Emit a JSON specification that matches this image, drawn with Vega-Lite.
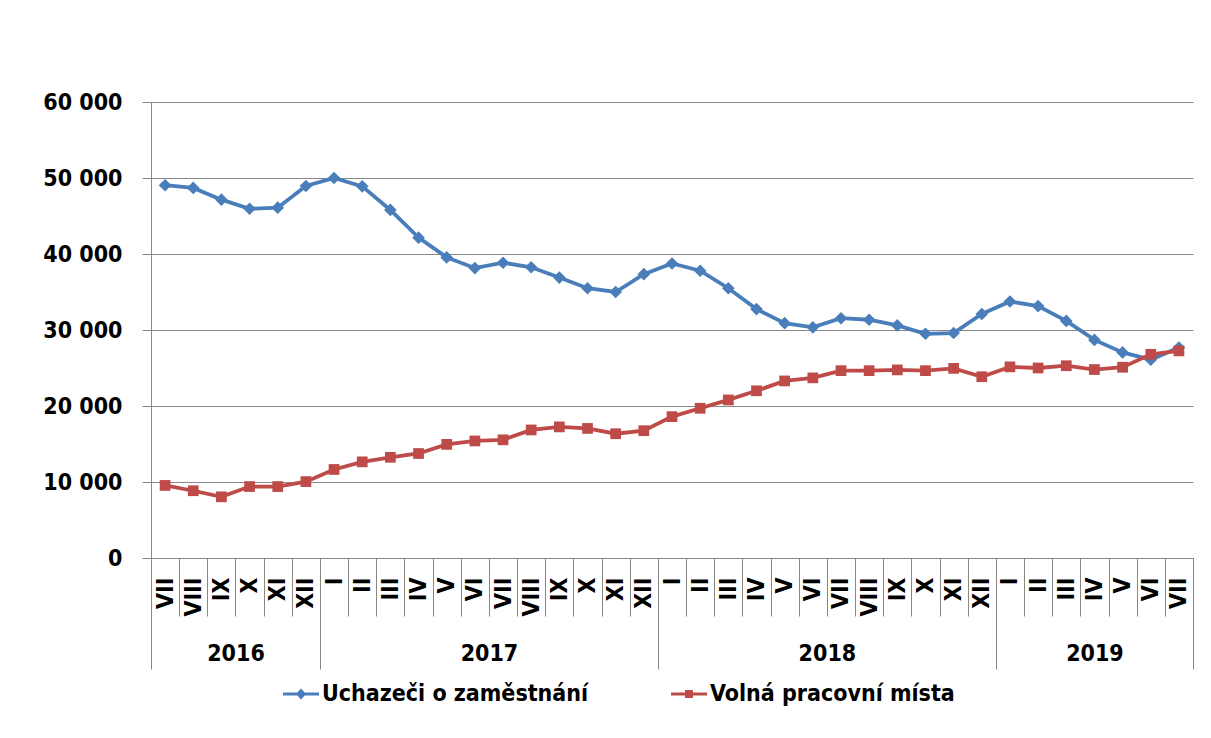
{
  "$schema": "https://vega.github.io/schema/vega-lite/v6.json",
  "width": 1042,
  "height": 456,
  "autosize": {"type": "none"},
  "padding": {"left": 151, "top": 102, "right": 18, "bottom": 180},
  "background": "white",
  "config": {
    "view": {"stroke": null},
    "font": "DejaVu Sans Condensed, DejaVu Sans",
    "axis": {"labelFont": "DejaVu Sans Condensed, DejaVu Sans", "labelFontWeight": "bold", "labelFontSize": 23, "labelColor": "black"},
    "legend": {"labelFont": "DejaVu Sans Condensed, DejaVu Sans", "labelFontWeight": "bold", "labelFontSize": 23, "labelColor": "black", "labelLimit": 500}
  },
  "datasets": {
    "series": [
      {"i": 0, "series": "Uchazeči o zaměstnání", "value": 49050},
      {"i": 1, "series": "Uchazeči o zaměstnání", "value": 48700},
      {"i": 2, "series": "Uchazeči o zaměstnání", "value": 47150},
      {"i": 3, "series": "Uchazeči o zaměstnání", "value": 45950},
      {"i": 4, "series": "Uchazeči o zaměstnání", "value": 46100},
      {"i": 5, "series": "Uchazeči o zaměstnání", "value": 48950},
      {"i": 6, "series": "Uchazeči o zaměstnání", "value": 50000},
      {"i": 7, "series": "Uchazeči o zaměstnání", "value": 48900},
      {"i": 8, "series": "Uchazeči o zaměstnání", "value": 45800},
      {"i": 9, "series": "Uchazeči o zaměstnání", "value": 42150},
      {"i": 10, "series": "Uchazeči o zaměstnání", "value": 39550},
      {"i": 11, "series": "Uchazeči o zaměstnání", "value": 38150},
      {"i": 12, "series": "Uchazeči o zaměstnání", "value": 38850},
      {"i": 13, "series": "Uchazeči o zaměstnání", "value": 38250},
      {"i": 14, "series": "Uchazeči o zaměstnání", "value": 36900},
      {"i": 15, "series": "Uchazeči o zaměstnání", "value": 35500},
      {"i": 16, "series": "Uchazeči o zaměstnání", "value": 35000},
      {"i": 17, "series": "Uchazeči o zaměstnání", "value": 37350},
      {"i": 18, "series": "Uchazeči o zaměstnání", "value": 38750},
      {"i": 19, "series": "Uchazeči o zaměstnání", "value": 37800},
      {"i": 20, "series": "Uchazeči o zaměstnání", "value": 35500},
      {"i": 21, "series": "Uchazeči o zaměstnání", "value": 32750},
      {"i": 22, "series": "Uchazeči o zaměstnání", "value": 30900},
      {"i": 23, "series": "Uchazeči o zaměstnání", "value": 30350},
      {"i": 24, "series": "Uchazeči o zaměstnání", "value": 31550},
      {"i": 25, "series": "Uchazeči o zaměstnání", "value": 31350},
      {"i": 26, "series": "Uchazeči o zaměstnání", "value": 30600},
      {"i": 27, "series": "Uchazeči o zaměstnání", "value": 29500},
      {"i": 28, "series": "Uchazeči o zaměstnání", "value": 29600},
      {"i": 29, "series": "Uchazeči o zaměstnání", "value": 32100},
      {"i": 30, "series": "Uchazeči o zaměstnání", "value": 33750},
      {"i": 31, "series": "Uchazeči o zaměstnání", "value": 33150},
      {"i": 32, "series": "Uchazeči o zaměstnání", "value": 31200},
      {"i": 33, "series": "Uchazeči o zaměstnání", "value": 28700},
      {"i": 34, "series": "Uchazeči o zaměstnání", "value": 27050},
      {"i": 35, "series": "Uchazeči o zaměstnání", "value": 26100},
      {"i": 36, "series": "Uchazeči o zaměstnání", "value": 27700},
      {"i": 0, "series": "Volná pracovní místa", "value": 9550},
      {"i": 1, "series": "Volná pracovní místa", "value": 8850},
      {"i": 2, "series": "Volná pracovní místa", "value": 8050},
      {"i": 3, "series": "Volná pracovní místa", "value": 9400},
      {"i": 4, "series": "Volná pracovní místa", "value": 9400},
      {"i": 5, "series": "Volná pracovní místa", "value": 10050},
      {"i": 6, "series": "Volná pracovní místa", "value": 11650},
      {"i": 7, "series": "Volná pracovní místa", "value": 12650},
      {"i": 8, "series": "Volná pracovní místa", "value": 13250},
      {"i": 9, "series": "Volná pracovní místa", "value": 13750},
      {"i": 10, "series": "Volná pracovní místa", "value": 14950},
      {"i": 11, "series": "Volná pracovní místa", "value": 15400},
      {"i": 12, "series": "Volná pracovní místa", "value": 15550},
      {"i": 13, "series": "Volná pracovní místa", "value": 16850},
      {"i": 14, "series": "Volná pracovní místa", "value": 17250},
      {"i": 15, "series": "Volná pracovní místa", "value": 17050},
      {"i": 16, "series": "Volná pracovní místa", "value": 16350},
      {"i": 17, "series": "Volná pracovní místa", "value": 16750},
      {"i": 18, "series": "Volná pracovní místa", "value": 18600},
      {"i": 19, "series": "Volná pracovní místa", "value": 19700},
      {"i": 20, "series": "Volná pracovní místa", "value": 20800},
      {"i": 21, "series": "Volná pracovní místa", "value": 22000},
      {"i": 22, "series": "Volná pracovní místa", "value": 23300},
      {"i": 23, "series": "Volná pracovní místa", "value": 23700},
      {"i": 24, "series": "Volná pracovní místa", "value": 24650},
      {"i": 25, "series": "Volná pracovní místa", "value": 24650},
      {"i": 26, "series": "Volná pracovní místa", "value": 24750},
      {"i": 27, "series": "Volná pracovní místa", "value": 24650},
      {"i": 28, "series": "Volná pracovní místa", "value": 24950},
      {"i": 29, "series": "Volná pracovní místa", "value": 23850},
      {"i": 30, "series": "Volná pracovní místa", "value": 25150},
      {"i": 31, "series": "Volná pracovní místa", "value": 25000},
      {"i": 32, "series": "Volná pracovní místa", "value": 25300},
      {"i": 33, "series": "Volná pracovní místa", "value": 24800},
      {"i": 34, "series": "Volná pracovní místa", "value": 25100},
      {"i": 35, "series": "Volná pracovní místa", "value": 26800},
      {"i": 36, "series": "Volná pracovní místa", "value": 27250}
    ]
  },
  "data": {"name": "series"},
  "resolve": {"scale": {"x": "shared", "y": "shared", "color": "shared"}, "axis": {"x": "independent", "y": "independent"}},
  "layer": [
    {
      "transform": [{"filter": "datum.series === 'Uchazeči o zaměstnání'"}],
      "mark": {"type": "line", "strokeWidth": 3.8},
      "encoding": {
        "x": {"field": "i", "type": "quantitative",
          "scale": {"domain": [-0.5, 36.5], "nice": false, "zero": false},
          "axis": {"orient": "bottom", "title": null, "values": [0,1,2,3,4,5,6,7,8,9,10,11,12,13,14,15,16,17,18,19,20,21,22,23,24,25,26,27,28,29,30,31,32,33,34,35,36],
            "labelExpr": "['VII','VIII','IX','X','XI','XII','I','II','III','IV','V','VI','VII','VIII','IX','X','XI','XII','I','II','III','IV','V','VI','VII','VIII','IX','X','XI','XII','I','II','III','IV','V','VI','VII'][datum.value]",
            "labelAngle": -90, "labelAlign": "right", "labelBaseline": "middle", "labelPadding": 19,
            "ticks": false, "tickSize": 0, "grid": false, "domain": true, "domainColor": "#878787", "domainWidth": 1,
            "labelOverlap": false, "labelFlush": false, "labelBound": false}},
        "y": {"field": "value", "type": "quantitative",
          "scale": {"domain": [0, 60000], "nice": false},
          "axis": {"title": null, "values": [0, 10000, 20000, 30000, 40000, 50000, 60000],
            "labelExpr": "replace(format(datum.value, ','), ',', ' ')",
            "grid": true, "gridColor": "#878787", "gridWidth": 1, "domainColor": "#878787", "tickColor": "#878787",
            "tickSize": 9, "labelPadding": 20, "labelOverlap": false, "labelFlush": false}},
        "color": {"field": "series", "type": "nominal",
          "scale": {"domain": ["Uchazeči o zaměstnání", "Volná pracovní místa"], "range": ["#4A7EBB", "#BE4B48"]},
          "legend": {"title": null, "orient": "none", "legendX": 132, "legendY": 574, "direction": "horizontal",
            "symbolSize": 1296, "labelOffset": 3, "columnPadding": 82, "labelBaseline": "middle", "labelLimit": 500,
            "encode": {"symbols": {"update": {
              "shape": {"signal": "datum.value === 'Uchazeči o zaměstnání' ? 'M-1,-0.09H1V0.09H-1Z M0,-0.3L0.28,0L0,0.3L-0.28,0Z' : 'M-1,-0.09H1V0.09H-1Z M-0.22,-0.22H0.22V0.22H-0.22Z'"},
              "fill": {"signal": "datum.value === 'Uchazeči o zaměstnání' ? '#4A7EBB' : '#BE4B48'"},
              "fillOpacity": {"value": 1},
              "strokeWidth": {"value": 0}}}}}}
      }
    },
    {
      "transform": [{"filter": "datum.series === 'Uchazeči o zaměstnání'"}],
      "mark": {"type": "point", "shape": "diamond", "filled": true, "size": 160, "opacity": 1},
      "encoding": {
        "x": {"field": "i", "type": "quantitative",
          "scale": {"domain": [-0.5, 36.5], "nice": false, "zero": false},
          "axis": {"orient": "bottom", "title": null, "values": [-0.5,0.5,1.5,2.5,3.5,4.5,5.5,6.5,7.5,8.5,9.5,10.5,11.5,12.5,13.5,14.5,15.5,16.5,17.5,18.5,19.5,20.5,21.5,22.5,23.5,24.5,25.5,26.5,27.5,28.5,29.5,30.5,31.5,32.5,33.5,34.5,35.5,36.5],
            "labels": false, "ticks": true, "tickSize": 58, "tickColor": "#878787", "tickWidth": 1, "grid": false, "domain": false}},
        "y": {"field": "value", "type": "quantitative", "scale": {"domain": [0, 60000], "nice": false}, "axis": null},
        "color": {"field": "series", "type": "nominal", "legend": null}
      }
    },
    {
      "transform": [{"filter": "datum.series === 'Volná pracovní místa'"}],
      "mark": {"type": "line", "strokeWidth": 3.8},
      "encoding": {
        "x": {"field": "i", "type": "quantitative",
          "scale": {"domain": [-0.5, 36.5], "nice": false, "zero": false},
          "axis": {"orient": "bottom", "title": null, "values": [-0.5, 5.5, 17.5, 29.5, 36.5],
            "labels": false, "ticks": true, "tickSize": 111, "tickColor": "#878787", "tickWidth": 1, "grid": false, "domain": false}},
        "y": {"field": "value", "type": "quantitative", "scale": {"domain": [0, 60000], "nice": false}, "axis": null},
        "color": {"field": "series", "type": "nominal", "legend": null}
      }
    },
    {
      "transform": [{"filter": "datum.series === 'Volná pracovní místa'"}],
      "mark": {"type": "point", "shape": "square", "filled": true, "size": 115, "opacity": 1},
      "encoding": {
        "x": {"field": "i", "type": "quantitative",
          "scale": {"domain": [-0.5, 36.5], "nice": false, "zero": false},
          "axis": {"orient": "bottom", "title": null, "values": [2.5, 11.5, 23.5, 33],
            "labelExpr": "datum.value < 5 ? '2016' : datum.value < 17 ? '2017' : datum.value < 29 ? '2018' : '2019'",
            "labelAngle": 0, "labelAlign": "center", "labelBaseline": "middle", "labelPadding": 95,
            "ticks": false, "tickSize": 0, "grid": false, "domain": false,
            "labelOverlap": false, "labelFlush": false, "labelBound": false}},
        "y": {"field": "value", "type": "quantitative", "scale": {"domain": [0, 60000], "nice": false}, "axis": null},
        "color": {"field": "series", "type": "nominal", "legend": null}
      }
    }
  ]
}
